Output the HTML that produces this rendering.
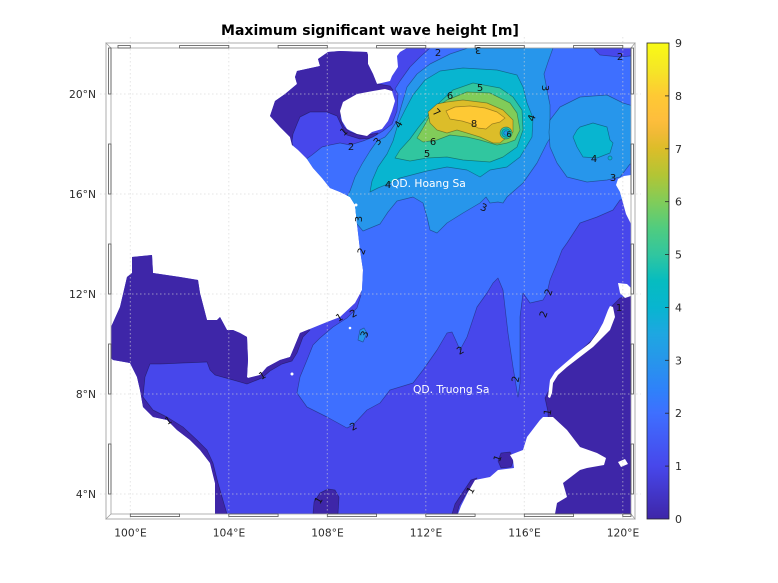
<!DOCTYPE html>
<html><head><meta charset="utf-8"><style>
html,body{margin:0;padding:0;background:#fff;}
svg{display:block;}
text{font-family:"DejaVu Sans","Liberation Sans",sans-serif;}
.b{stroke:#000;stroke-opacity:.35;stroke-width:.7;stroke-linejoin:round;}
.cl{font-size:10px;fill:#111;text-anchor:middle;}
.tk{font-size:10.7px;fill:#2b2b2b;}
</style></head><body>
<svg width="778" height="583" viewBox="0 0 778 583" xmlns="http://www.w3.org/2000/svg">
<defs>
<clipPath id="sea"><polygon points="407,48 631,48 631,514 215,514 215,483 210,463 200,450 190,440 177,430 167,420 153,417 143,407 140,390 137,377 130,363 113,360 111,358 111,327 120,307 127,277 132,273 132,257 152,255 153,273 180,277 198,280 200,293 207,320 217,320 220,317 227,330 233,330 240,333 247,337 248,360 247,377 248,378 260,375 267,367 280,360 290,357 293,350 300,333 327,322 340,317 355,303 362,290 363,270 360,250 357,224 355,205 350,197 340,192 330,188 322,178 313,168 307,159 298,150 292,145 290,137 280,127 270,116 275,101 285,94 297,84 295,77 297,71 320,66 318,59 328,52 340,51 367,52 368,55 368,64 373,74 377,84 390,81 392,76 398,67 397,56 400,52"/></clipPath>
<linearGradient id="cb" x1="0" y1="1" x2="0" y2="0">
<stop offset="0" stop-color="#3E26A8"/><stop offset="0.111" stop-color="#4747EB"/><stop offset="0.222" stop-color="#3E6FFF"/><stop offset="0.27" stop-color="#2F81FA"/><stop offset="0.333" stop-color="#2796EB"/><stop offset="0.389" stop-color="#1EA7E1"/><stop offset="0.444" stop-color="#08B5D0"/><stop offset="0.5" stop-color="#06BCC0"/><stop offset="0.556" stop-color="#31C69F"/><stop offset="0.611" stop-color="#50CC7F"/><stop offset="0.667" stop-color="#81CC59"/><stop offset="0.722" stop-color="#B2C535"/><stop offset="0.778" stop-color="#DCBD29"/><stop offset="0.81" stop-color="#F0BA36"/><stop offset="0.84" stop-color="#FEBE3C"/><stop offset="0.889" stop-color="#FEC934"/><stop offset="0.944" stop-color="#F5E626"/><stop offset="1" stop-color="#F9FB15"/>
</linearGradient>
</defs>

<!-- Title -->
<text x="370" y="35" text-anchor="middle" style="font-size:14px;font-weight:bold;fill:#000">Maximum significant wave height [m]</text>

<!-- Map fills -->
<g clip-path="url(#sea)">
<rect x="100" y="40" width="545" height="480" fill="#4747EB"/>
<g fill="#3E26A8" class="b">
<polygon points="250,40 378,40 378,84 390,86 393,90 385,95 370,95 352,99 342,106 340,118 344,127 350,132 360,135 372,134 378,133 374,138 360,139 347,135 343,129 337,116 327,112 310,112 300,117 297,124 293,134 292,141 293,150 250,150"/>
<polygon points="100,240 250,240 250,330 303,328 310,330 303,337 297,353 292,361 282,364 270,371 262,378 257,380 247,384 233,380 215,375 210,370 207,362 183,363 160,364 150,364 145,377 143,397 153,410 167,417 183,427 197,440 207,450 213,463 218,483 227,514 100,514"/>
<polygon points="545,398 558,372 575,356 592,340 605,322 612,306 620,298 631,296 640,296 640,520 550,520 552,500 548,440 548,412"/>
<polygon points="313,514 314,502 320,493 328,489 335,490 339,497 338,514"/>
<polygon points="498,461 501,453 510,452 514,459 511,467 501,468"/>
<polygon points="452,514 455,504 463,492 471,480 477,478 474,483 466,494 459,506 457,514"/>
</g>
<polygon class="b" fill="#3E6FFF" points="430,40 592,40 595,50 600,55 620,57 640,55 640,198 620,200 613,210 597,217 580,223 567,243 562,250 557,263 550,280 547,293 543,300 530,303 523,293 520,317 520,383 518,397 513,367 508,333 503,290 498,278 493,283 487,293 477,307 467,337 460,350 457,343 452,332 447,333 437,350 423,370 413,383 390,390 380,403 367,410 353,425 347,428 327,417 307,407 297,393 300,377 307,360 313,345 320,338 333,327 347,318 357,308 361,295 361,270 358,250 330,240 300,170 305,160 312,155 322,147 330,145 340,143 350,145 363,141 373,137 383,131 392,124 397,111 398,94 395,89 400,81 410,67 420,57 430,48"/>
<g fill="#2796EB" class="b">
<polygon points="478,40 553,40 553,48 548,62 544,74 547,90 550,105 550,120 552,135 547,143 537,163 523,183 507,197 503,203 498,202 490,203 486,197 480,203 463,213 447,223 437,233 430,230 427,217 423,203 413,197 397,201 388,212 380,224 363,231 357,224 350,215 345,200 350,191 355,177 362,164 370,151 377,141 385,137 391,130 397,121 402,104 407,87 417,74 430,64 450,54 465,49 478,44"/>
<polygon points="550,120 560,107 580,97 607,95 623,103 640,108 640,165 630,164 620,177 607,180 587,182 567,177 557,163 550,147 549,132"/>
<polygon points="358,340 360,330 364,328 367,333 363,342"/>
</g>
<g fill="#08B5D0" class="b">
<polygon points="370,192 378,188 388,184 400,178 427,171 447,167 467,170 480,177 490,170 507,167 520,157 532,137 533,118 527,103 523,87 517,75 497,70 463,68 440,71 425,80 413,95 405,110 398,124 393,141 387,154 378,167 372,181"/>
<polygon points="573,137 577,130 580,127 593,123 607,127 610,140 613,143 610,153 597,158 583,157 577,147"/>
<circle cx="610" cy="158" r="2"/>
</g>
<polygon class="b" fill="#31C69F" points="395,158 400,150 410,139 418,128 430,113 440,102 453,90 473,83 500,88 513,97 522,110 523,130 517,147 503,157 490,162 463,160 447,157 427,158 410,161"/>
<polygon class="b" fill="#81CC59" points="417,138 423,128 433,110 447,100 467,92 490,93 510,103 517,113 520,130 515,140 507,143 497,145 480,140 467,137 450,135 437,140 423,142"/>
<polygon class="b" fill="#DCBD29" points="428,112 437,104 447,102 463,100 487,103 503,110 513,120 513,132 507,137 500,143 493,143 480,137 467,133 457,130 447,133 437,130 430,123"/>
<polygon class="b" fill="#FEC934" points="446,111 455,107 470,106 485,108 497,112 505,118 500,122 492,124 486,129 478,128 472,124 462,121 450,119"/>
<circle class="b" cx="506" cy="133" r="6" fill="#31C69F"/>
<circle class="b" cx="506" cy="133" r="4.2" fill="#08B5D0"/>
<circle class="b" cx="506" cy="133" r="2.2" fill="#2796EB"/>
</g>

<!-- Islands -->
<g fill="#fff">
<polygon points="340,111 343,102 357,94 373,91 385,89 392,91 395,101 392,111 388,121 382,129 372,132 367,136 357,134 347,129 342,121"/>
<polygon points="458,514 461,506 468,492 475,480 490,477 498,470 514,468 513,460 510,455 523,450 527,437 540,420 543,417 553,417 567,430 580,447 597,453 606,458 604,465 587,468 580,470 563,483 567,497 557,503 555,514"/>
<polygon points="548,397 550,380 555,372 563,365 577,353 590,343 598,332 603,323 608,310 610,306 613,307 615,317 610,330 600,340 593,347 580,357 567,367 558,375 553,383 552,393 550,398"/>
<polygon points="631,175 624,176 618,179 616,185 620,192 623,203 626,214 631,224"/>
<polygon points="618,283 627,284 631,288 631,296 625,298 620,293"/>
<polygon points="618,462 625,459 628,464 621,467"/>
<circle cx="356" cy="205" r="1.5"/><circle cx="350" cy="328" r="1.3"/><circle cx="292" cy="374" r="1.5"/>
</g>

<!-- Grid -->
<g stroke="#d4d4d4" stroke-width="1" stroke-dasharray="1.5,2.5" fill="none" opacity="0.6">
<line x1="130.3" y1="37" x2="130.3" y2="520"/><line x1="228.8" y1="37" x2="228.8" y2="520"/><line x1="327.3" y1="37" x2="327.3" y2="520"/><line x1="425.8" y1="37" x2="425.8" y2="520"/><line x1="524.3" y1="37" x2="524.3" y2="520"/><line x1="622.8" y1="37" x2="622.8" y2="520"/>
<line x1="100" y1="94" x2="641" y2="94"/><line x1="100" y1="194" x2="641" y2="194"/><line x1="100" y1="294" x2="641" y2="294"/><line x1="100" y1="394" x2="641" y2="394"/><line x1="100" y1="494" x2="641" y2="494"/>
</g>

<!-- Frame -->
<g fill="none">
<rect x="106" y="43" width="529" height="476" stroke="#c4c4c4" stroke-width="1.4"/>
<rect x="111" y="48" width="520" height="466" stroke="#a0a0a0" stroke-width="0.8"/>
<line x1="106" y1="43" x2="111" y2="48" stroke="#999" stroke-width=".7"/>
<line x1="635" y1="43" x2="631" y2="48" stroke="#999" stroke-width=".7"/>
<line x1="106" y1="519" x2="111" y2="514" stroke="#999" stroke-width=".7"/>
<line x1="635" y1="519" x2="631" y2="514" stroke="#999" stroke-width=".7"/>
<g stroke="#555" stroke-width=".8">
<rect x="118" y="45.5" width="12.3" height="2.5"/><rect x="179.6" y="45.5" width="49.2" height="2.5"/><rect x="278.1" y="45.5" width="49.2" height="2.5"/><rect x="376.6" y="45.5" width="49.2" height="2.5"/><rect x="475.1" y="45.5" width="49.2" height="2.5"/><rect x="573.6" y="45.5" width="49.2" height="2.5"/>
<rect x="130.3" y="514" width="49.3" height="2.5"/><rect x="228.8" y="514" width="49.3" height="2.5"/><rect x="327.3" y="514" width="49.3" height="2.5"/><rect x="425.8" y="514" width="49.3" height="2.5"/><rect x="524.3" y="514" width="49.3" height="2.5"/><rect x="622.8" y="514" width="8.2" height="2.5"/>
<rect x="108.5" y="48" width="2.5" height="46"/><rect x="108.5" y="144" width="2.5" height="50"/><rect x="108.5" y="244" width="2.5" height="50"/><rect x="108.5" y="344" width="2.5" height="50"/><rect x="108.5" y="444" width="2.5" height="50"/>
<rect x="631" y="48" width="2.5" height="46"/><rect x="631" y="144" width="2.5" height="50"/><rect x="631" y="244" width="2.5" height="50"/><rect x="631" y="344" width="2.5" height="50"/><rect x="631" y="444" width="2.5" height="50"/>
</g>
</g>

<!-- Region labels -->
<text x="391" y="187" style="font-size:10.7px;fill:#fff">QD. Hoang Sa</text>
<text x="413" y="393" style="font-size:10.7px;fill:#fff">QD. Truong Sa</text>

<!-- Contour labels -->
<g class="cl">
<text x="344" y="135" transform="rotate(-40 344 132)">1</text>
<text x="351" y="150">2</text>
<text x="377" y="145" transform="rotate(-50 377 141)">3</text>
<text x="398" y="128" transform="rotate(-60 398 124)">4</text>
<text x="388" y="188">4</text>
<text x="427" y="157">5</text>
<text x="433" y="145">6</text>
<text x="437" y="116" transform="rotate(45 437 112)">7</text>
<text x="474" y="127">8</text>
<text x="450" y="99">6</text>
<text x="480" y="91">5</text>
<text x="532" y="121" transform="rotate(-70 532 118)">4</text>
<text x="546" y="92" transform="rotate(90 546 88)">3</text>
<text x="438" y="56">2</text>
<text x="478" y="53" transform="rotate(180 478 50)">3</text>
<text x="620" y="60">2</text>
<text x="594" y="162">4</text>
<text x="613" y="181">3</text>
<text x="358" y="223" transform="rotate(-90 358 219)">3</text>
<text x="484" y="211" transform="rotate(20 484 207)">3</text>
<text x="361" y="255" transform="rotate(-70 361 251)">2</text>
<text x="364" y="338" transform="rotate(-70 364 334)">3</text>
<text x="353" y="317" transform="rotate(-30 353 313)">2</text>
<text x="339" y="321" transform="rotate(-30 339 317)">1</text>
<text x="262" y="379" transform="rotate(-30 262 375)">1</text>
<text x="168" y="424" transform="rotate(-30 168 420)">1</text>
<text x="318" y="504" transform="rotate(-60 318 500)">1</text>
<text x="353" y="430" transform="rotate(-30 353 426)">2</text>
<text x="460" y="354" transform="rotate(-30 460 350)">2</text>
<text x="515" y="383" transform="rotate(-80 515 379)">2</text>
<text x="548" y="296" transform="rotate(-70 548 292)">2</text>
<text x="543" y="318" transform="rotate(-70 543 314)">2</text>
<text x="619" y="311">1</text>
<text x="547" y="416" transform="rotate(-80 547 412)">1</text>
<text x="497" y="462" transform="rotate(-70 497 458)">1</text>
<text x="470" y="494" transform="rotate(-60 470 490)">1</text>
<text x="509" y="137" style="font-size:8px">6</text>
</g>

<!-- Axis tick labels -->
<g class="tk" text-anchor="middle">
<text x="130.5" y="536.5">100°E</text><text x="229" y="536.5">104°E</text><text x="327.5" y="536.5">108°E</text><text x="426" y="536.5">112°E</text><text x="524.5" y="536.5">116°E</text><text x="623" y="536.5">120°E</text>
</g>
<g class="tk" text-anchor="end">
<text x="96" y="98">20°N</text><text x="96" y="198">16°N</text><text x="96" y="298">12°N</text><text x="96" y="398">8°N</text><text x="96" y="498">4°N</text>
</g>

<!-- Colorbar -->
<rect x="647" y="43" width="22" height="476" fill="url(#cb)" stroke="#262626" stroke-width="0.8"/>
<g stroke="#262626" stroke-width="0.8">
<line x1="665" y1="466.1" x2="669" y2="466.1"/><line x1="665" y1="413.2" x2="669" y2="413.2"/><line x1="665" y1="360.3" x2="669" y2="360.3"/><line x1="665" y1="307.4" x2="669" y2="307.4"/><line x1="665" y1="254.6" x2="669" y2="254.6"/><line x1="665" y1="201.7" x2="669" y2="201.7"/><line x1="665" y1="148.8" x2="669" y2="148.8"/><line x1="665" y1="95.9" x2="669" y2="95.9"/>
</g>
<g class="tk" style="font-size:11px">
<text x="675" y="523">0</text><text x="675" y="470.1">1</text><text x="675" y="417.2">2</text><text x="675" y="364.3">3</text><text x="675" y="311.4">4</text><text x="675" y="258.6">5</text><text x="675" y="205.7">6</text><text x="675" y="152.8">7</text><text x="675" y="99.9">8</text><text x="675" y="47">9</text>
</g>
</svg>
</body></html>
